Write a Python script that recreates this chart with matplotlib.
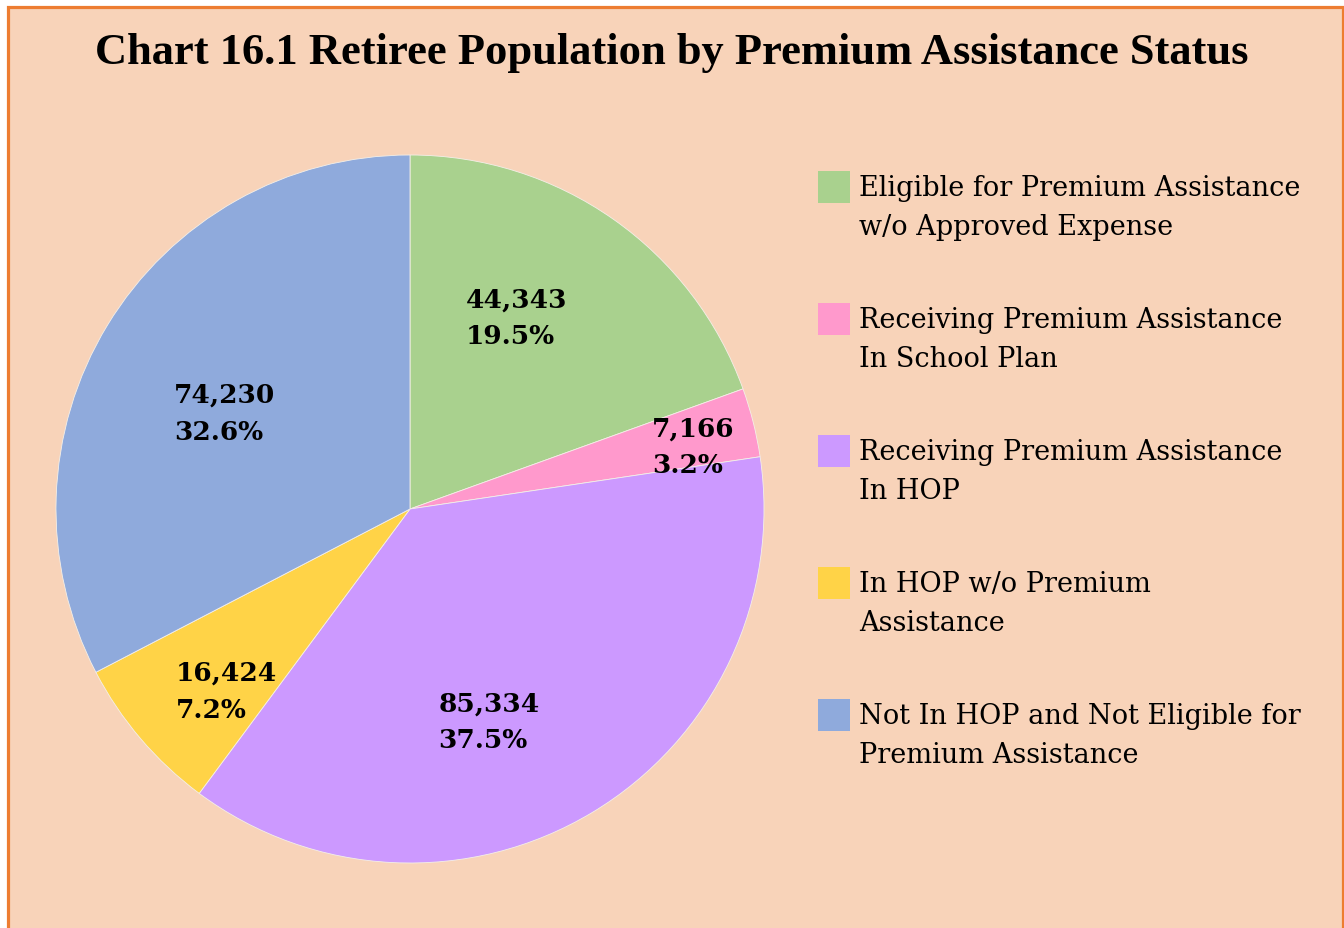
import numpy as np
import matplotlib.pyplot as plt
from matplotlib.patches import Rectangle

categories = [
    "Eligible for Premium Assistance\nw/o Approved Expense",
    "Receiving Premium Assistance\nIn School Plan",
    "Receiving Premium Assistance\nIn HOP",
    "In HOP w/o Premium\nAssistance",
    "Not In HOP and Not Eligible for\nPremium Assistance",
]
retirees = [44343, 7166, 85334, 16424, 74230]
percents = [19.5, 3.2, 37.5, 7.2, 32.6]
colors = ["#A9D18E", "#FF99CC", "#CC99FF", "#FFD347", "#8FAADC"]

# label placement (radius fraction, angle shift in degrees) for each slice
lab_r = [0.62, 0.82, 0.64, 0.73, 0.59]
lab_da = [6.0, -1.7, -10.5, 4.2, 3.9]

W, H = 1344, 929
bg = "#F8D3B9"
fig = plt.figure(figsize=(W / 100, H / 100), dpi=100, facecolor="white")

# frame: orange border, open at the bottom
fig.patches.append(Rectangle((7.5 / W, -0.05), (W - 9) / W, 1.05 - 7.5 / H,
                             transform=fig.transFigure, facecolor=bg,
                             edgecolor="#ED7D31", lw=2.3, zorder=-1))

ax = fig.add_axes([0, 0, 1, 1])
cx, cy, R = 410, H - 510, 354
wedges, _ = ax.pie(retirees, colors=colors, startangle=90, counterclock=False,
                   center=(cx, cy), radius=R, frame=True,
                   wedgeprops=dict(edgecolor="#f4efe8", linewidth=0.6))
ax.set_xlim(0, W)
ax.set_ylim(0, H)
ax.axis("off")

for w, v, p, r, da in zip(wedges, retirees, percents, lab_r, lab_da):
    mid = np.deg2rad((w.theta1 + w.theta2) / 2 + da)
    x = cx + r * R * np.cos(mid)
    y = cy + r * R * np.sin(mid)
    ax.text(x, y, f"{v:,}\n{p:.1f}%", ha="center", va="center",
            multialignment="left", fontsize=19, fontweight="bold",
            family="DejaVu Serif", linespacing=1.6, color="black")

fig.text(0.5, 1 - 53 / H, "Chart 16.1 Retiree Population by Premium Assistance Status",
         ha="center", va="center", fontsize=32, fontweight="bold",
         family="Liberation Serif")

# legend drawn by hand: square swatch aligned with the first text line
for i, (lab, c) in enumerate(zip(categories, colors)):
    top = 172 + 132 * i
    fig.patches.append(Rectangle((818 / W, 1 - (top + 32) / H), 32 / W, 32 / H,
                                 transform=fig.transFigure, facecolor=c,
                                 edgecolor="none"))
    fig.text(859 / W, 1 - (top + 3) / H, lab, ha="left", va="top",
             fontsize=19.5, family="DejaVu Serif", linespacing=1.55)

fig.savefig("out.png", dpi=100, facecolor=fig.get_facecolor())
